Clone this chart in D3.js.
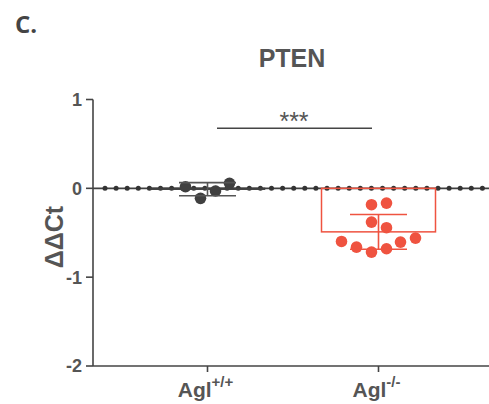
<!DOCTYPE html>
<html><head><meta charset="utf-8">
<script src="https://cdn.jsdelivr.net/npm/d3@7"></script>
<style>body{margin:0;background:#fff}svg{display:block}</style>
</head><body>
<svg id="c" width="489" height="404"></svg>
<script>
// ---- data ----
const groups = ["Agl+/+", "Agl-/-"];
const groupBase = ["Agl", "Agl"];
const groupSup = ["+/+", "-/-"];
const means = [-0.01, -0.49];
const sds = [0.074, 0.195];
const pointsWT = [
  {x: -0.22, v: 0.018}, {x: -0.07, v: -0.113}, {x: 0.08, v: -0.03}, {x: 0.22, v: 0.056}
];
const pointsKO = [
  {x: -0.07, v: -0.184}, {x: 0.08, v: -0.166}, {x: -0.07, v: -0.38}, {x: 0.08, v: -0.443},
  {x: -0.37, v: -0.598}, {x: -0.22, v: -0.662}, {x: -0.07, v: -0.718}, {x: 0.08, v: -0.68},
  {x: 0.22, v: -0.605}, {x: 0.37, v: -0.56}
];
const yTicks = [1, 0, -1, -2];
const yTickLabels = ["1", "0", "-1", "-2"];
const colors = ["#404040", "#ef5340"];
const title = "PTEN";
const panel = "C.";
const yLabel = "ΔΔCt";
const sigText = "***";

// ---- layout ----
const svg = d3.select("#c");
const xi = d3.scaleLinear().domain([0, 1]).range([207.5, 378.5]);
const y = d3.scaleLinear().domain([-2, 1]).range([366, 99.5]);
const barW = 114, capW = 57;
const xOff = d3.scaleLinear().domain([-1, 1]).range([-100, 100]);

// zero dotted line
svg.append("line").attr("x1", 93).attr("x2", 489).attr("y1", y(0)).attr("y2", y(0))
  .attr("stroke", "#404040").attr("stroke-width", 1.6);
const dotXs = d3.range(105, 489, 11.1);
svg.append("g").selectAll("circle").data(dotXs).join("circle")
  .attr("cx", d => d).attr("cy", y(0)).attr("r", 2.5).attr("fill", "#333");

// bars
means.forEach((m, i) => {
  const cx = xi(i);
  svg.append("rect").attr("x", cx - barW / 2).attr("width", barW)
    .attr("y", y(0)).attr("height", Math.max(0, y(m) - y(0)))
    .attr("fill", "none").attr("stroke", colors[i]).attr("stroke-width", 1.5);
});

// points
const pts = [pointsWT, pointsKO];
pts.forEach((arr, i) => {
  svg.append("g").selectAll("circle").data(arr).join("circle")
    .attr("cx", d => xi(i) + xOff(d.x)).attr("cy", d => y(d.v)).attr("r", 5.8)
    .attr("fill", colors[i]);
});

// error bars
means.forEach((m, i) => {
  const cx = xi(i);
  const g = svg.append("g").attr("stroke", i === 0 ? "#555" : colors[i]).attr("stroke-width", 1.6);
  g.append("line").attr("x1", cx).attr("x2", cx).attr("y1", y(m + sds[i])).attr("y2", y(m - sds[i]));
  [m + sds[i], m - sds[i]].forEach(v =>
    g.append("line").attr("x1", cx - capW / 2).attr("x2", cx + capW / 2).attr("y1", y(v)).attr("y2", y(v)));
});

// axes
const ax = svg.append("g").attr("stroke", "#444").attr("stroke-width", 1.6);
ax.append("line").attr("x1", 93).attr("x2", 93).attr("y1", y(1)).attr("y2", y(-2));
ax.append("line").attr("x1", 93).attr("x2", 489).attr("y1", y(-2)).attr("y2", y(-2));
yTicks.forEach(t => ax.append("line").attr("x1", 86).attr("x2", 93).attr("y1", y(t)).attr("y2", y(t)));
groups.forEach((g, i) => ax.append("line").attr("x1", xi(i)).attr("x2", xi(i)).attr("y1", y(-2)).attr("y2", y(-2) + 6));

const font = "'Liberation Sans', Arial, sans-serif";
svg.append("g").selectAll("text").data(yTicks).join("text")
  .attr("x", 82).attr("y", d => y(d)).attr("dy", "0.36em").attr("text-anchor", "end")
  .attr("font-family", font).attr("font-weight", "bold").attr("font-size", 18).attr("fill", "#555")
  .text((d, i) => yTickLabels[i]);

// x labels
groups.forEach((g, i) => {
  const t = svg.append("text").attr("x", xi(i) - 2).attr("y", 397).attr("text-anchor", "middle")
    .attr("font-family", font).attr("font-weight", "bold").attr("font-size", 21).attr("fill", "#555");
  t.append("tspan").text(groupBase[i]);
  t.append("tspan").attr("dy", -10).attr("font-size", 15).text(groupSup[i]);
});

// y label
svg.append("text").attr("transform", `translate(63,237) rotate(-90)`).attr("text-anchor", "middle")
  .attr("font-family", font).attr("font-weight", "bold").attr("font-size", 25).attr("fill", "#555")
  .text(yLabel);

// title
svg.append("text").attr("x", 292).attr("y", 66.5).attr("text-anchor", "middle")
  .attr("font-family", font).attr("font-weight", "bold").attr("font-size", 25).attr("fill", "#555")
  .text(title);

// panel letter
svg.append("text").attr("x", 15).attr("y", 33).attr("font-family", "'Open Sans', sans-serif")
  .attr("font-weight", "bold").attr("font-size", 24).attr("fill", "#444").text(panel);

// significance
svg.append("line").attr("x1", 217).attr("x2", 372).attr("y1", 128.3).attr("y2", 128.3)
  .attr("stroke", "#444").attr("stroke-width", 1.6);
svg.append("text").attr("x", 294).attr("y", 130).attr("text-anchor", "middle")
  .attr("font-family", font).attr("font-size", 25).attr("fill", "#555").text(sigText);
</script>
</body></html>
